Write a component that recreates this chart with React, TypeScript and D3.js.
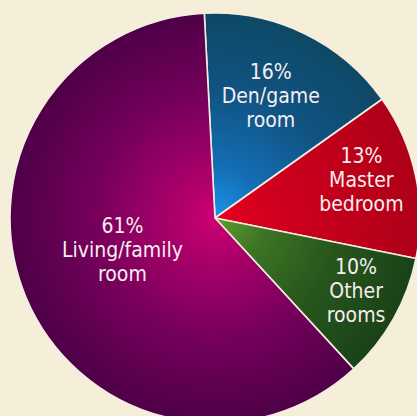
import * as d3 from "d3";
import React from "react";

// room shares, clockwise from 12 o'clock
const rooms = ["Den/game room", "Master bedroom", "Other rooms", "Living/family room"];
const shares = [16, 13, 10, 61];
const labelLines = [
  ["16%", "Den/game", "room"],
  ["13%", "Master", "bedroom"],
  ["10%", "Other", "rooms"],
  ["61%", "Living/family", "room"],
];
// inner -> outer colours for each slice
const gradients = [
  ["#1b92ea", "#146eb4", "#105484", "#0e4864"],
  ["#e6001f", "#d2001e", "#c2001b", "#ae0018"],
  ["#5e9e2c", "#3c7424", "#27561c", "#1a4218"],
  ["#cc0070", "#a40068", "#74005a", "#4e0048"],
];
const stops = ["0%", "25%", "60%", "100%"];

const W = 417;
const H = 416;
const cx = 215;
const cy = 218;
const radius = 205;
// where each label sits, as a fraction of the radius
const labelRadius = [0.625, 0.73, 0.79, 0.49];

export default function App() {
  const data = rooms.map((name, i) => ({ name, value: shares[i], i }));

  const pie = d3
    .pie<any>()
    .value((d) => d.value)
    .sort(null)
    .startAngle((-3 * Math.PI) / 180)
    .endAngle(2 * Math.PI - (3 * Math.PI) / 180);
  const arcs = pie(data);
  const arc = d3.arc<any>().innerRadius(0).outerRadius(radius);

  return (
    <svg
      width={W}
      height={H}
      style={{ position: "absolute", left: 0, top: 0, background: "#f5efda" }}
    >
      <defs>
        {gradients.map((g, i) => (
          <radialGradient
            key={i}
            id={"g" + i}
            gradientUnits="userSpaceOnUse"
            cx={0}
            cy={0}
            r={radius}
          >
            {g.map((c, j) => (
              <stop key={j} offset={stops[j]} stopColor={c} />
            ))}
          </radialGradient>
        ))}
      </defs>
      <g transform={`translate(${cx},${cy})`}>
        {arcs.map((a, i) => (
          <path
            key={i}
            d={arc(a) as string}
            fill={`url(#g${i})`}
            stroke="#f4ece2"
            strokeWidth={1.6}
            strokeLinejoin="round"
          />
        ))}
        {arcs.map((a, i) => {
          const mid = (a.startAngle + a.endAngle) / 2;
          const r = radius * labelRadius[i];
          const x = Math.sin(mid) * r;
          const y = -Math.cos(mid) * r;
          const lines = labelLines[i];
          return (
            <text
              key={"t" + i}
              x={x}
              y={y}
              textAnchor="middle"
              fill="#f7eef0"
              fontFamily="'Liberation Sans Narrow', 'DejaVu Sans Condensed', 'Roboto', sans-serif"
              fontSize={21}
            >
              {lines.map((l, j) => (
                <tspan key={j} x={x} y={y + (j - 1) * 24}>
                  {l}
                </tspan>
              ))}
            </text>
          );
        })}
      </g>
    </svg>
  );
}
